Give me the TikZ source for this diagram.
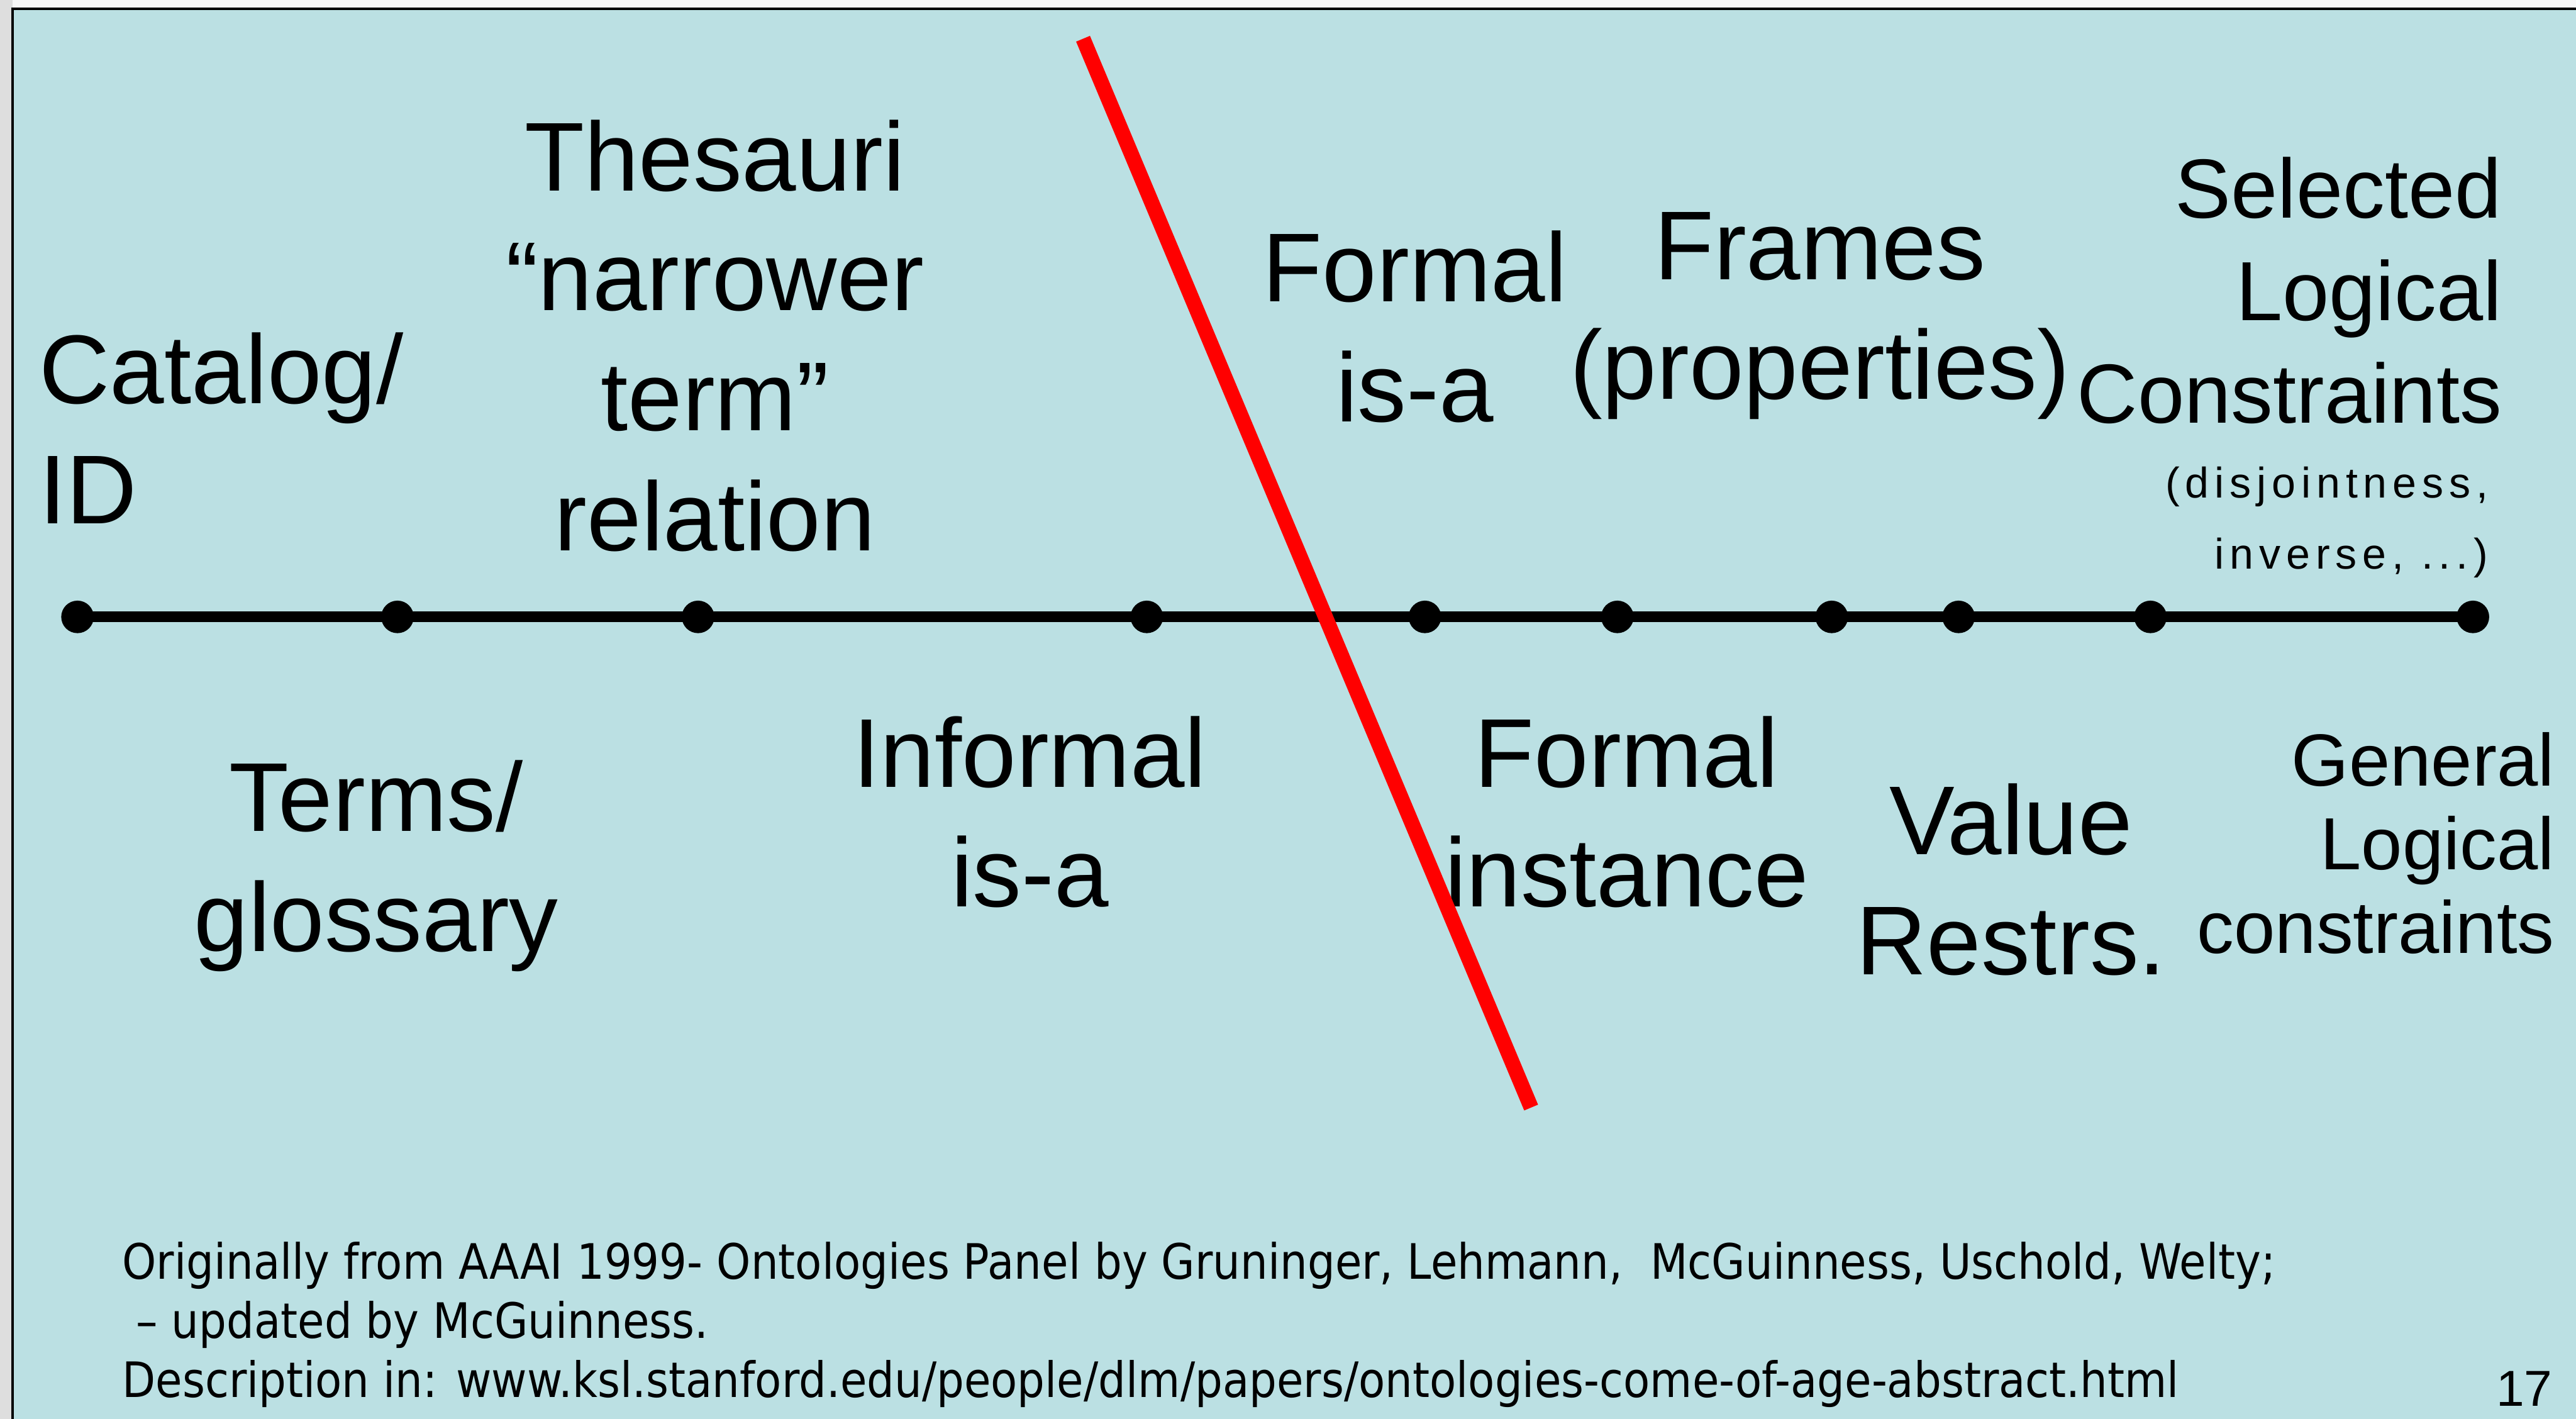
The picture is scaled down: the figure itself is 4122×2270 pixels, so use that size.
\documentclass[tikz,border=0pt]{standalone}
\usepackage{fontspec}
\setmainfont{Liberation Sans}
\newfontfamily\footfont[FakeStretch=0.89]{DejaVu Sans}
\newfontfamily\spacedfont[LetterSpace=13]{Liberation Sans}
\usepackage{xcolor}
\usepackage{tikz}
\usetikzlibrary{positioning,calc}

\definecolor{slidebg}{RGB}{187,224,227}
\definecolor{shadowgray}{RGB}{222,222,222}

\begin{document}
\begin{tikzpicture}[x=0.01cm,y=-0.01cm,
inner sep=0pt,
text=black]

\tikzstyle{axisdot}=[circle, fill=black, draw=none, minimum size=0.52cm, inner sep=0pt]
\tikzstyle{big label}=[align=center, anchor=base, font=\fontsize{44.5pt}{54.6pt}\selectfont]
\tikzstyle{mid label}=[align=right, anchor=base east, font=\fontsize{38.2pt}{46.7pt}\selectfont]
\tikzstyle{small label}=[align=right, anchor=base east, font=\fontsize{33.6pt}{38.1pt}\selectfont]
\tikzstyle{tiny label}=[align=right, anchor=base east, font=\spacedfont\fontsize{19.5pt}{32.4pt}\selectfont]
\tikzstyle{foot}=[align=left, anchor=base west, font=\footfont\fontsize{22.2pt}{26.9pt}\selectfont]

%slide and shadow
\useasboundingbox (0,0) rectangle (4122,2270);
\clip (0,0) rectangle (4122,2270);
\fill[shadowgray] (0,0) rectangle (4122,2270);
\fill[gray!6] (20,0) rectangle (4122,14);
\draw[line width=1pt, fill=slidebg] (20,14) rectangle (4200,2350);

%the scale
\node[axisdot] (d1) at (124,987) {};
\node[axisdot] (d2) at (636,987) {};
\node[axisdot] (d3) at (1117,987) {};
\node[axisdot] (d4) at (1835,987) {};
\node[axisdot] (d5) at (2280,987) {};
\node[axisdot] (d6) at (2588,987) {};
\node[axisdot] (d7) at (2931,987) {};
\node[axisdot] (d8) at (3134,987) {};
\node[axisdot] (d9) at (3441,987) {};
\node[axisdot] (d10) at (3957,987) {};

\draw[line width=0.17cm] (d1.center) -- (d10.center);

%labels above (placed at the baseline of their last line)
\node[big label, align=left, anchor=base west] (catalog) at (62,838) {Catalog/\\ID};
\node[big label] (thesauri) at (1144,881) {Thesauri\\“narrower\\term”\\relation};
\node[big label] (formalisa) at (2264,675) {Formal\\is-a};
\node[big label] (frames) at (2912,639) {Frames\\(properties)};
\node[mid label] (selected) at (4004,677) {Selected\\Logical\\Constraints};
\node[tiny label] (disjoint) at (3982,910) {(disjointness,\\inverse, ...)};

%labels below
\node[big label] (terms) at (602,1522) {Terms/\\glossary};
\node[big label] (informal) at (1648,1451) {Informal\\is-a};
\node[big label] (formalinst) at (2603,1451) {Formal\\instance};
\node[big label] (value) at (3218,1559) {Value\\Restrs.};
\node[small label] (general) at (4088,1525) {General\\Logical\\constraints};

%the cut
\coordinate (cuttop) at (1733,62);
\coordinate (cutbot) at (2450,1772);
\draw[red, line width=0.24cm] (cuttop) -- (cutbot);

%footer
\node[foot] (source) at (195,2236) {Originally from AAAI 1999- Ontologies Panel by Gruninger, Lehmann,\ \ McGuinness, Uschold, Welty;\\\ – updated by McGuinness.\\Description in: www.ksl.stanford.edu/people/dlm/papers/ontologies-come-of-age-abstract.html};
\node[anchor=base east, font=\fontsize{23pt}{27pt}\selectfont] (pagenum) at (4085,2250) {17};

\end{tikzpicture}
\end{document}
